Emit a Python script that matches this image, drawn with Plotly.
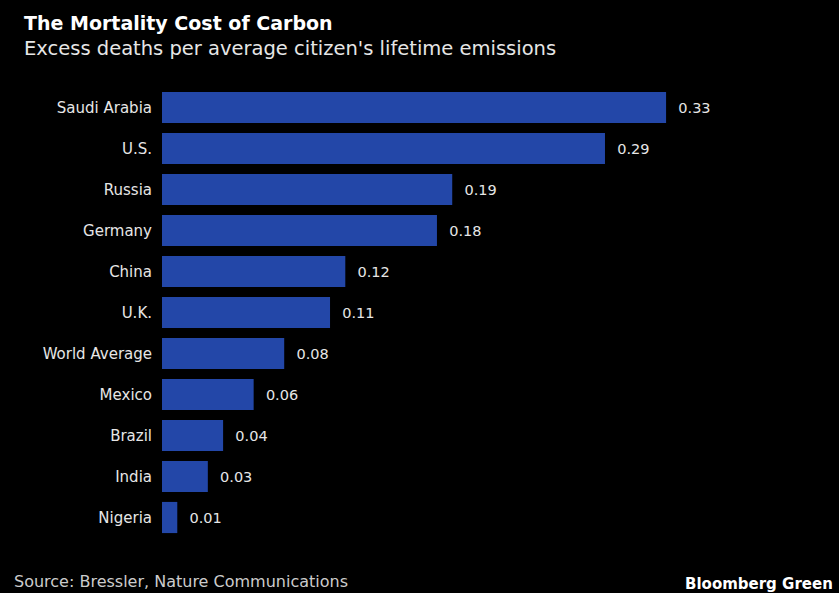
import plotly.graph_objects as go

countries = ["Saudi Arabia", "U.S.", "Russia", "Germany", "China", "U.K.",
             "World Average", "Mexico", "Brazil", "India", "Nigeria"]
deaths = [0.33, 0.29, 0.19, 0.18, 0.12, 0.11, 0.08, 0.06, 0.04, 0.03, 0.01]
value_labels = ["0.33", "0.29", "0.19", "0.18", "0.12", "0.11", "0.08", "0.06", "0.04", "0.03", "0.01"]

title = "The Mortality Cost of Carbon"
subtitle = "Excess deaths per average citizen's lifetime emissions"
source = "Source: Bressler, Nature Communications"
brand = "Bloomberg Green"

FONT = "DejaVu Sans"
TXT = "#e6e6e6"

fig = go.Figure(go.Bar(
    x=deaths,
    y=countries,
    orientation="h",
    marker=dict(color="#2347a8", line=dict(width=0)),
    width=0.76,
    text=["  " + v for v in value_labels],
    textposition="outside",
    textfont=dict(family=FONT, size=14.5, color=TXT),
    cliponaxis=False,
    hoverinfo="skip",
))

fig.update_layout(
    width=839, height=593,
    paper_bgcolor="#000000", plot_bgcolor="#000000",
    margin=dict(l=162, r=66, t=87, b=55),
    showlegend=False,
    xaxis=dict(range=[0, 0.4], visible=False, fixedrange=True),
    yaxis=dict(
        categoryorder="array", categoryarray=countries, autorange="reversed",
        showgrid=False, zeroline=False, showline=False, ticks="",
        tickfont=dict(family=FONT, size=15, color=TXT),
        ticklabelstandoff=9,
    ),
    annotations=[
        dict(text="<b>" + title + "</b>", xref="paper", yref="paper",
             x=0, y=1, xanchor="left", yanchor="bottom",
             xshift=-140, yshift=51, showarrow=False,
             font=dict(family=FONT, size=19, color="#ffffff")),
        dict(text=subtitle, xref="paper", yref="paper",
             x=0, y=1, xanchor="left", yanchor="bottom",
             xshift=-140, yshift=25, showarrow=False,
             font=dict(family=FONT, size=19.5, color=TXT)),
        dict(text=source, xref="paper", yref="paper",
             x=0, y=0, xanchor="left", yanchor="top",
             xshift=-150, yshift=-32, showarrow=False,
             font=dict(family=FONT, size=16, color="#cccccc")),
        dict(text="<b>" + brand + "</b>", xref="paper", yref="paper",
             x=1, y=0, xanchor="right", yanchor="top",
             xshift=62, yshift=-35, showarrow=False,
             font=dict(family=FONT, size=15, color="#ffffff")),
    ],
)

fig.write_html("out.html")
